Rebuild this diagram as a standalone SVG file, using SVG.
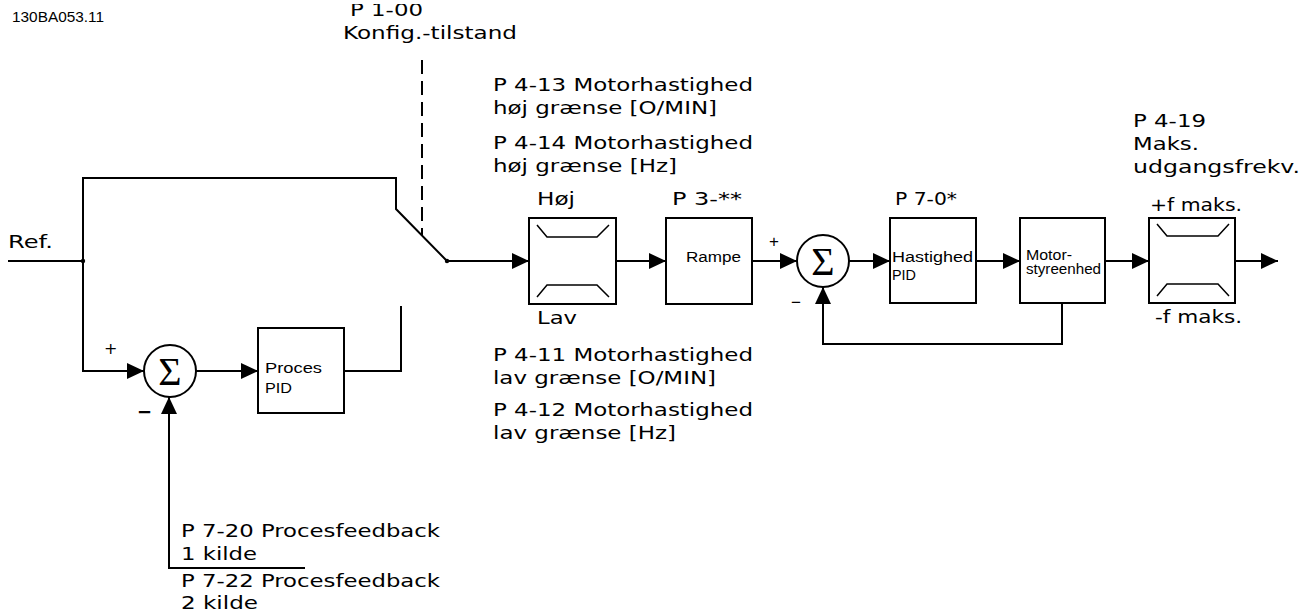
<svg xmlns="http://www.w3.org/2000/svg" width="1306" height="613" viewBox="0 0 1306 613">
<defs>
<style>
.lbl{font-family:"DejaVu Sans",Verdana,sans-serif;font-size:18px;fill:#000}
.bx{font-family:"Liberation Sans",Arial,sans-serif;font-size:14px;fill:#000}
.sig{font-family:"Liberation Serif","Times New Roman",serif;font-size:40px;fill:#000}
.ln{fill:none;stroke:#000;stroke-width:2}
.thin{fill:none;stroke:#000;stroke-width:1.5}
.blk{fill:#fff;stroke:#000;stroke-width:2}
</style>
<marker id="ar" markerUnits="userSpaceOnUse" markerWidth="17" markerHeight="16" refX="17" refY="8" orient="auto" viewBox="0 0 17 16">
<path d="M0,0 L17,8 L0,16 z" fill="#000"/>
</marker>
<clipPath id="topcut"><rect x="300" y="4" width="200" height="30"/></clipPath>
</defs>
<rect width="1306" height="613" fill="#fff"/>

<text x="12" y="22" style="font-family:'Liberation Sans',Arial,sans-serif;font-size:14px" textLength="92" lengthAdjust="spacingAndGlyphs">130BA053.11</text>

<g id="connectors">
<path class="ln" d="M8,261 H83 V178 H396 V209 L447,261"/>
<path class="ln" d="M83,261 V371 H144" marker-end="url(#ar)"/>
<path class="ln" d="M196,371 H258" marker-end="url(#ar)"/>
<path class="ln" d="M344,371 H401 V306"/>
<path class="ln" d="M305,568 H169 V397" marker-end="url(#ar)"/>
<path class="ln" d="M422,60 V235" stroke-dasharray="14 7"/>
<path class="ln" d="M447,261 H529" marker-end="url(#ar)"/>
<path class="ln" d="M616,261 H666" marker-end="url(#ar)"/>
<path class="ln" d="M752,261 H797" marker-end="url(#ar)"/>
<path class="ln" d="M849,261 H890" marker-end="url(#ar)"/>
<path class="ln" d="M976,261 H1020" marker-end="url(#ar)"/>
<path class="ln" d="M1105,261 H1149" marker-end="url(#ar)"/>
<path class="ln" d="M1235,261 H1278" marker-end="url(#ar)"/>
<path class="ln" d="M1062,303 V344 H823 V287" marker-end="url(#ar)"/>
<circle cx="83" cy="261" r="2.2" fill="#000"/>
<circle cx="447" cy="261" r="2.2" fill="#000"/>
</g>

<g id="sum1">
<circle cx="170" cy="371" r="26" class="blk"/>
<text class="sig" x="170" y="385" text-anchor="middle">Σ</text>
<text x="104" y="354" style="font-family:'DejaVu Sans',sans-serif;font-size:16px">+</text>
<text x="137" y="418" style="font-family:'DejaVu Sans',sans-serif;font-size:18px;font-weight:bold">−</text>
</g>

<g id="process-pid">
<rect x="258" y="328" width="86" height="85" class="blk"/>
<text class="bx" x="265" y="373" font-size="16" textLength="57" lengthAdjust="spacingAndGlyphs">Proces</text>
<text class="bx" x="265" y="393" font-size="16" textLength="27" lengthAdjust="spacingAndGlyphs">PID</text>
</g>

<g id="switch-label">
<text class="lbl" x="350" y="16" textLength="73" lengthAdjust="spacingAndGlyphs" clip-path="url(#topcut)">P 1-00</text>
<text class="lbl" x="343" y="39" textLength="174" lengthAdjust="spacingAndGlyphs">Konfig.-tilstand</text>
</g>

<g id="ref-label">
<text class="lbl" x="8" y="248" textLength="45" lengthAdjust="spacingAndGlyphs">Ref.</text>
</g>

<g id="feedback-labels">
<text class="lbl" x="181" y="537" textLength="259" lengthAdjust="spacingAndGlyphs">P 7-20 Procesfeedback</text>
<text class="lbl" x="181" y="560" textLength="76" lengthAdjust="spacingAndGlyphs">1 kilde</text>
<text class="lbl" x="181" y="587" textLength="259" lengthAdjust="spacingAndGlyphs">P 7-22 Procesfeedback</text>
<text class="lbl" x="181" y="609" textLength="77" lengthAdjust="spacingAndGlyphs">2 kilde</text>
</g>

<g id="speed-limit">
<rect x="529" y="218" width="87" height="86" class="blk"/>
<path class="thin" d="M537,225 L547,237 H597 L609,225"/>
<path class="thin" d="M537,297 L547,285 H597 L609,297"/>
<text class="lbl" x="537" y="205" textLength="38" lengthAdjust="spacingAndGlyphs">Høj</text>
<text class="lbl" x="537" y="324" textLength="40" lengthAdjust="spacingAndGlyphs">Lav</text>
</g>

<g id="limit-labels">
<text class="lbl" x="493" y="91" textLength="260" lengthAdjust="spacingAndGlyphs">P 4-13 Motorhastighed</text>
<text class="lbl" x="493" y="114" textLength="224" lengthAdjust="spacingAndGlyphs">høj grænse [O/MIN]</text>
<text class="lbl" x="493" y="149" textLength="260" lengthAdjust="spacingAndGlyphs">P 4-14 Motorhastighed</text>
<text class="lbl" x="493" y="172" textLength="184" lengthAdjust="spacingAndGlyphs">høj grænse [Hz]</text>
<text class="lbl" x="493" y="361" textLength="260" lengthAdjust="spacingAndGlyphs">P 4-11 Motorhastighed</text>
<text class="lbl" x="493" y="384" textLength="223" lengthAdjust="spacingAndGlyphs">lav grænse [O/MIN]</text>
<text class="lbl" x="493" y="416" textLength="260" lengthAdjust="spacingAndGlyphs">P 4-12 Motorhastighed</text>
<text class="lbl" x="493" y="439" textLength="183" lengthAdjust="spacingAndGlyphs">lav grænse [Hz]</text>
</g>

<g id="ramp">
<rect x="666" y="218" width="86" height="86" class="blk"/>
<text class="bx" x="686" y="262" textLength="55" lengthAdjust="spacingAndGlyphs">Rampe</text>
<text class="lbl" x="672" y="205" textLength="70" lengthAdjust="spacingAndGlyphs">P 3-**</text>
</g>

<g id="sum2">
<circle cx="823" cy="261" r="26" class="blk"/>
<text class="sig" x="823" y="275" text-anchor="middle">Σ</text>
<text x="769" y="247" style="font-family:'Liberation Sans',sans-serif;font-size:17px">+</text>
<text x="791" y="308" style="font-family:'Liberation Sans',sans-serif;font-size:17px">−</text>
</g>

<g id="speed-pid">
<rect x="890" y="218" width="86" height="85" class="blk"/>
<text class="bx" x="892" y="262" textLength="81" lengthAdjust="spacingAndGlyphs">Hastighed</text>
<text class="bx" x="892" y="280" textLength="24" lengthAdjust="spacingAndGlyphs">PID</text>
<text class="lbl" x="895" y="205" textLength="62" lengthAdjust="spacingAndGlyphs">P 7-0*</text>
</g>

<g id="motor-control">
<rect x="1020" y="218" width="85" height="85" class="blk"/>
<text class="bx" x="1026" y="260" font-size="12" textLength="46" lengthAdjust="spacingAndGlyphs">Motor-</text>
<text class="bx" x="1026" y="274" font-size="12" textLength="75" lengthAdjust="spacingAndGlyphs">styreenhed</text>
</g>

<g id="output-limit">
<rect x="1149" y="218" width="86" height="85" class="blk"/>
<path class="thin" d="M1157,224 L1167,236 H1218 L1229,224"/>
<path class="thin" d="M1157,296 L1167,284 H1218 L1229,296"/>
<text class="lbl" x="1150" y="211" textLength="92" lengthAdjust="spacingAndGlyphs">+f maks.</text>
<text class="lbl" x="1155" y="323" textLength="87" lengthAdjust="spacingAndGlyphs">-f maks.</text>
<text class="lbl" x="1133" y="127" textLength="73" lengthAdjust="spacingAndGlyphs">P 4-19</text>
<text class="lbl" x="1133" y="150" textLength="66" lengthAdjust="spacingAndGlyphs">Maks.</text>
<text class="lbl" x="1133" y="173" textLength="167" lengthAdjust="spacingAndGlyphs">udgangsfrekv.</text>
</g>
</svg>
